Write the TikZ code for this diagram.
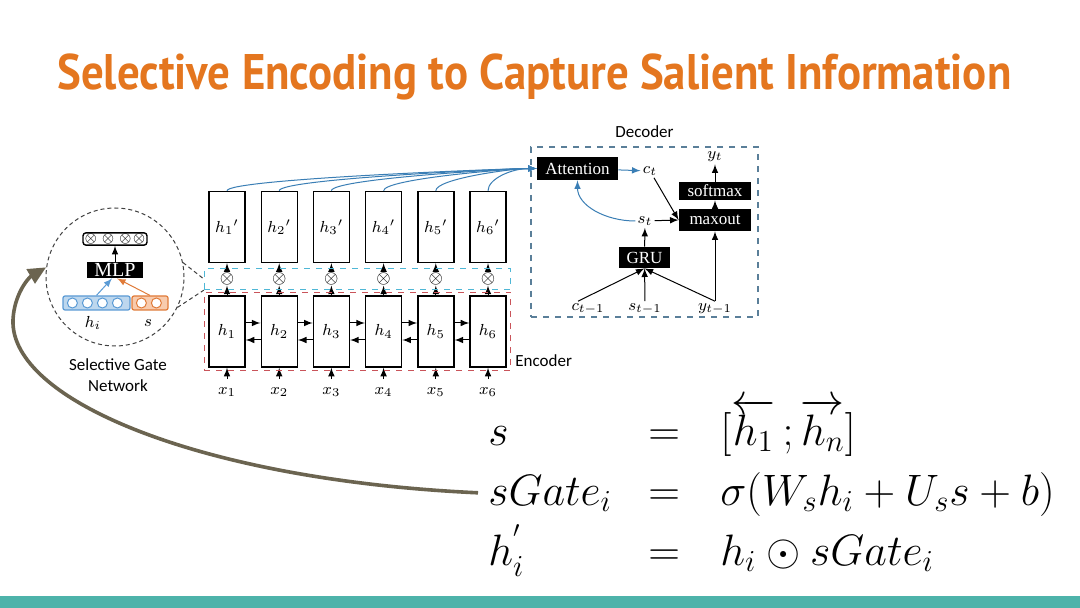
\documentclass[tikz,border=0pt]{standalone}
\usepackage{amsmath}
\usepackage{amssymb}
\usepackage{fontspec}
\usepackage{graphicx}
\usetikzlibrary{shapes,arrows,arrows.meta,positioning,calc,fit}
\newfontfamily\seTitleFont{PT Sans}
\newfontfamily\seSansFont{Carlito}
\newfontfamily\seSerifFont{Liberation Serif}
\newcommand{\seEqText}[1]{\scalebox{1.06}{$#1$}}
\definecolor{seOrange}{HTML}{E4761F}
\definecolor{seTeal}{HTML}{4DB3AA}
\definecolor{seOlive}{HTML}{6B6450}
\definecolor{seBlue}{HTML}{3A7EB5}
\definecolor{seCyan}{HTML}{4FB7D6}
\definecolor{seRed}{HTML}{C9545A}
\definecolor{seFrame}{HTML}{5A7F99}
\definecolor{seVecBlue}{HTML}{BDD7EE}
\definecolor{seVecBlueDk}{HTML}{5B9BD5}
\definecolor{seVecOrange}{HTML}{F8CBAD}
\definecolor{seVecOrangeDk}{HTML}{E07B39}
\tikzset{
    seTitle/.style={
        anchor=base west,
        inner sep=0pt,
        text=seOrange,
        font=\seTitleFont\bfseries\fontsize{25}{30}\selectfont
    },
    % Boxes
    seCell/.style={rectangle, draw, line width=0.7pt, minimum width=18pt, minimum height=35.5pt, inner sep=0pt, font=\fontsize{8.5}{10}\selectfont},
    seBlack/.style={rectangle, fill=black, text=white, inner sep=0pt, font=\seSerifFont\fontsize{8.5}{10}\selectfont},
    seVar/.style={inner sep=1pt, font=\fontsize{8.5}{10}\selectfont},
    seGate/.style={inner sep=0pt, font=\fontsize{9}{10}\selectfont},
    seOutVec/.style={rectangle, rounded corners=1.5pt, draw, line width=0.7pt, minimum width=32pt, minimum height=6pt, inner sep=0.5pt, font=\fontsize{7.5}{8}\selectfont},
    seVec/.style={rectangle, rounded corners=1pt, line width=0.6pt, minimum height=7pt, inner sep=0pt},
    seVecDot/.style={fill=white, line width=0.5pt},
    % Frames
    seZoom/.style={circle, draw=black!75, dash pattern=on 2pt off 1.5pt, minimum size=69pt, line width=0.5pt},
    seZoomLine/.style={draw=black!75, dash pattern=on 2pt off 1.5pt, line width=0.5pt},
    seCyanFrame/.style={draw=seCyan, dashed, line width=0.6pt},
    seRedFrame/.style={draw=seRed, dashed, line width=0.6pt},
    seDecFrame/.style={draw=seFrame, dashed, line width=0.6pt, minimum width=113.5pt, minimum height=85pt, inner sep=0pt},
    seLabel/.style={font=\seSansFont\fontsize{8.5}{10.5}\selectfont, align=center, inner sep=0pt},
    seEq/.style={anchor=base west, inner sep=0pt, font=\fontsize{21}{25}\selectfont},
    % Arrows
    seArrow/.style={->, >=latex, line width=0.5pt},
    seBlueArrow/.style={seArrow, draw=seBlue},
    seBigArrow/.style={draw=seOlive, line width=1.8pt, -{Triangle[length=9pt,width=8pt]}}
}

\begin{document}
\begin{tikzpicture}[x=0.5pt, y=-0.5pt]
    \useasboundingbox (0,0) rectangle (1080,608);
    \fill[white] (0,0) rectangle (1080,608);
    \fill[seTeal] (0,596) rectangle (1080,608);

    \node[seTitle] (title) at (57,90) {\resizebox{477pt}{\height}{Selective Encoding to Capture Salient Information}};

    % encoder
    \foreach \i in {1,...,6} {
        \pgfmathsetmacro\xc{227+52.2*(\i-1)}
        \node[seCell] (h\i) at (\xc,331.5) {$h_{\i}$};
        \node[seCell] (hp\i) at (\xc,227) {$h_{\i}{}'$};
        \node[seGate] (g\i) at (\xc,279) {$\otimes$};
        \node[seVar] (x\i) at (\xc,392) {$x_{\i}$};
        \draw[seArrow, shorten <=3pt] (x\i) -- (h\i);
        \draw[seArrow] (h\i) -- (g\i);
        \draw[seArrow] (g\i) -- (hp\i);
    }
    \foreach \i [count=\j from 2] in {1,...,5} {
        \draw[seArrow] ([yshift=4.25pt]h\i.east) -- ([yshift=4.25pt]h\j.west);
        \draw[seArrow] ([yshift=-4.25pt]h\j.west) -- ([yshift=-4.25pt]h\i.east);
    }
    \node[seCyanFrame, fit=(g1)(g6), inner xsep=7.5pt, inner ysep=2pt] (gateRow) {};
    \node[seRedFrame, fit=(h1)(h6), inner xsep=2pt, inner ysep=1.5pt] (encRow) {};
    \node[seLabel, anchor=west] (encLabel) at (515,361) {Encoder};

    % decoder
    \node[seDecFrame] (dec) at (644.5,232) {};
    \node[seLabel, above=4pt of dec] (decLabel) {Decoder};
    \node[seBlack, minimum width=40.5pt, minimum height=11.5pt] (att) at (577.5,168.5) {Attention};
    \node[seVar] (ct) at (650,171) {$c_t$};
    \node[seBlack, minimum width=36pt, minimum height=11pt] (maxout) at (715,220) {maxout};
    \node[seBlack, minimum width=36pt, minimum height=9pt] (softmax) at (715,191) {softmax};
    \node[seVar] (yt) at (715,157) {$y_t$};
    \node[seVar] (st) at (645,221) {$s_t$};
    \node[seBlack, minimum width=25.5pt, minimum height=10.5pt] (gru) at (644.5,257.5) {GRU};
    \node[seVar] (ctm) at (588,309) {$c_{t-1}$};
    \node[seVar] (stm) at (645,309) {$s_{t-1}$};
    \node[seVar] (ytm) at (715,309) {$y_{t-1}$};

    \draw[seBlueArrow] (att) -- (ct);
    \draw[seArrow] (ct) -- (maxout.west);
    \draw[seArrow] (st) -- (maxout.west);
    \draw[seArrow] (maxout) -- (softmax);
    \draw[seArrow] (softmax) -- (yt);
    \draw[seArrow] (gru) -- (st);
    \draw[seArrow] (stm) -- (gru);
    \draw[seArrow] ([xshift=-5pt]ctm.north) -- (gru.south);
    \draw[seArrow] (ytm.north) -- (gru.south);
    \draw[seArrow] (ytm.north) -- (maxout.south);
    \draw[seBlueArrow] (st.west) .. controls +(-30,0) and +(0,25) .. (att.south);
    \foreach \i in {1,...,6}
        \draw[seBlueArrow] (hp\i.north) .. controls +(0,-12) and +(-25,0) .. (att.west);

    % selective gate network
    \node[seZoom] (zoomCirc) at (115,277) {};
    \draw[seZoomLine] (zoomCirc.12) -- (gateRow.west);
    \draw[seZoomLine] (zoomCirc.-26) -- (gateRow.south west);
    \node[seOutVec] (outVec) at (115,239) {$\otimes\hspace{0.6pt}\otimes\hspace{0.6pt}\otimes\hspace{0.6pt}\otimes$};
    \node[seBlack, font=\seSerifFont\fontsize{10}{12}\selectfont, minimum width=28pt, minimum height=8pt] (mlp) at (115,270) {MLP};
    \node[seVec, fill=seVecBlue, draw=seVecBlueDk, minimum width=33.5pt] (hiVec) at (96.5,303) {};
    \node[seVec, fill=seVecOrange, draw=seVecOrangeDk, minimum width=18pt] (sVec) at (150,303) {};
    \foreach \k in {0,...,3}
        \draw[seVecDot, draw=seVecBlueDk] ($(hiVec.west)+(10+15*\k,0)$) circle (2.5pt);
    \foreach \k in {0,1}
        \draw[seVecDot, draw=seVecOrangeDk] ($(sVec.west)+(10+15*\k,0)$) circle (2.5pt);
    \node[seVar] (hiLabel) at (93,323) {$h_i$};
    \node[seVar] (sLabel) at (148,323) {$s$};
    \draw[seArrow, draw=seVecBlueDk] (hiVec.north) -- ([xshift=-1.5pt]mlp.south);
    \draw[seArrow, draw=seVecOrangeDk] (sVec.north) -- ([xshift=1pt]mlp.south);
    \draw[seArrow] (mlp) -- (outVec);
    \node[seLabel] (gateLabel) at (118,375) {Selective Gate\\Network};

    % equations
    \node[seEq] (lhs1) at (488,445) {\seEqText{s}};
    \node[seEq] (eq1) at (648,445) {\seEqText{=}};
    \node[seEq] (rhs1) at (720,445) {\seEqText{[\overleftarrow{h_1}\,;\overrightarrow{h_n}]}};
    \node[seEq] (lhs2) at (488,505) {\seEqText{sGate_i}};
    \node[seEq] (eq2) at (648,505) {\seEqText{=}};
    \node[seEq] (rhs2) at (720,505) {\seEqText{\sigma(W_s h_i + U_s s + b)}};
    \node[seEq] (lhs3) at (488,565) {\seEqText{h_i^{'}}};
    \node[seEq] (eq3) at (648,565) {\seEqText{=}};
    \node[seEq] (rhs3) at (720,565) {\seEqText{h_i \odot sGate_i}};

    \draw[seBigArrow, shorten <=5pt] (lhs2.west) .. controls (200,480) and (10,400) .. (13,320) .. controls (14,295) and (28,278) .. (zoomCirc.172);
\end{tikzpicture}
\end{document}
